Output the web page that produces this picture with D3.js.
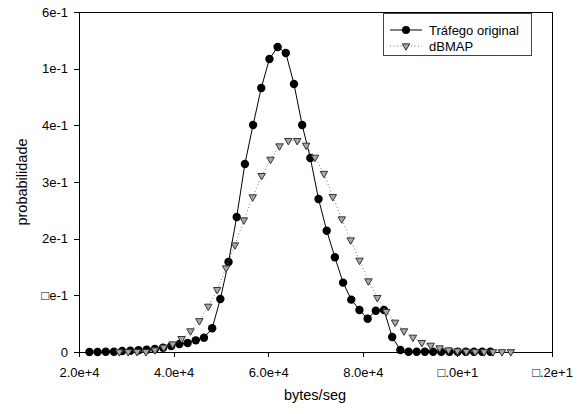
<!DOCTYPE html>
<html>
<head>
<meta charset="utf-8">
<script src="https://cdn.jsdelivr.net/npm/d3@7"></script>
<style>
	body { margin: 0; background: #fff; }
	svg { display: block; font-family: "Liberation Sans", Arial, sans-serif; }
</style>
</head>
<body>
<svg id="chart" width="579" height="414"></svg>
<script>

// Tráfego original (bytes/seg, probabilidade)
var origX = [22200, 23930, 25660, 27390, 29120, 30850, 32580, 34310, 36040, 37770,
	39500, 41230, 42960, 44690, 46420, 48150, 49880, 51610, 53340, 55070,
	56800, 58530, 60260, 61990, 63720, 65450, 67180, 68910, 70640, 72370,
	74100, 75830, 77560, 79290, 81020, 82750, 84480, 86210, 87940, 89670,
	91400, 93130, 94860, 96590, 98320, 100050, 101780, 103510, 105240, 106970];
var origY = [0.0, 0.0, 0.0005, 0.0005, 0.0018, 0.0023, 0.003, 0.004, 0.0053, 0.0076,
	0.0106, 0.0141, 0.0159, 0.0206, 0.0253, 0.0418, 0.0935, 0.1588, 0.2382, 0.3318,
	0.4006, 0.4659, 0.5171, 0.5383, 0.5277, 0.4729, 0.4006, 0.3424, 0.27, 0.2141,
	0.1671, 0.1224, 0.0924, 0.0741, 0.0588, 0.0729, 0.0741, 0.0265, 0.0035, 0.0005,
	0.0005, 0.0005, 0.0005, 0.0005, 0.0005, 0.0005, 0.0005, 0.0005, 0.0005, 0.0005];

// dBMAP
var dbmapX = [28520, 30400, 32280, 34160, 36040, 37920, 39800, 41690, 43570, 45450,
	47330, 49210, 51090, 52970, 54850, 56730, 58620, 60500, 62380, 64260,
	66140, 68020, 69900, 71780, 73660, 75550, 77430, 79310, 81190, 83070,
	84950, 86830, 88710, 90600, 92480, 94360, 96240, 98120, 100000, 101880,
	103760, 105640, 107530, 109410, 111290];
var dbmapY = [0.0002, 0.0003, 0.0005, 0.0005, 0.0035, 0.0083, 0.0141, 0.0235, 0.0371, 0.0551,
	0.0806, 0.11, 0.1482, 0.1888, 0.2329, 0.2735, 0.3112, 0.34, 0.3635, 0.3729,
	0.3729, 0.3647, 0.3435, 0.315, 0.2741, 0.2347, 0.1976, 0.1618, 0.1253, 0.0959,
	0.0712, 0.0524, 0.0371, 0.0259, 0.0165, 0.0118, 0.0071, 0.0035, 0.0018, 0.001,
	0.0005, 0.0003, 0.0003, 0.0003, 0.0003];

var xTicks = [20000, 40000, 60000, 80000, 100000, 120000];
var xTickLabels = ["2.0e+4", "4.0e+4", "6.0e+4", "8.0e+4", "\u25A1.0e+1", "\u25A1.2e+1"];
var yTicks = [0, 0.1, 0.2, 0.3, 0.4, 0.5, 0.6];
var yTickLabels = ["0", "\u25A1e-1", "2e-1", "3e-1", "4e-1", "1e-1", "6e-1"];

var seriesNames = ["Tráfego original", "dBMAP"];

var svg = d3.select("#chart");

var plotLeft = 79, plotRight = 552, plotTop = 12, plotBottom = 352;

var x = d3.scaleLinear().domain([20000, 120000]).range([plotLeft, plotRight]);
var y = d3.scaleLinear().domain([0, 0.6]).range([plotBottom, plotTop]);

// frame (top and right)
svg.append("path")
	.attr("d", "M" + plotLeft + "," + (plotTop + 0.5) + "H" + (plotRight + 0.5) + "V" + plotBottom)
	.attr("fill", "none")
	.attr("stroke", "#000")
	.attr("stroke-width", 1)
	.attr("shape-rendering", "crispEdges");

// axes
var xAxis = d3.axisBottom(x)
	.tickValues(xTicks)
	.tickFormat((d, i) => xTickLabels[i])
	.tickSize(5)
	.tickSizeOuter(0);

var yAxis = d3.axisLeft(y)
	.tickValues(yTicks)
	.tickFormat((d, i) => yTickLabels[i])
	.tickSize(5)
	.tickSizeOuter(0);

var gx = svg.append("g")
	.attr("transform", "translate(0," + plotBottom + ")")
	.call(xAxis);

var gy = svg.append("g")
	.attr("transform", "translate(" + plotLeft + ",0)")
	.call(yAxis);

[gx, gy].forEach(g => {
	g.selectAll("path, line")
		.attr("stroke", "#000")
		.attr("shape-rendering", "crispEdges");
	g.selectAll("text")
		.attr("fill", "#000")
		.attr("font-size", "13px")
		.attr("font-family", "Liberation Sans, Arial, sans-serif");
});
gx.selectAll("text").attr("dy", "1.3em");
gy.selectAll("text").attr("x", -11);

// axis titles
svg.append("text")
	.attr("x", 315)
	.attr("y", 400)
	.attr("text-anchor", "middle")
	.attr("font-size", "14.5px")
	.text("bytes/seg");

svg.append("text")
	.attr("transform", "translate(27," + (plotTop + plotBottom) / 2 + ") rotate(-90)")
	.attr("text-anchor", "middle")
	.attr("font-size", "14.5px")
	.text("probabilidade");

// data
var orig = origX.map((v, i) => [v, origY[i]]);
var dbmap = dbmapX.map((v, i) => [v, dbmapY[i]]);

var line = d3.line()
	.x(d => x(d[0]))
	.y(d => y(d[1]));

var tri = d3.symbol().type(d3.symbolTriangle).size(24);

function drawTriangle(g, px, py) {
	g.append("path")
		.attr("d", tri())
		.attr("transform", "translate(" + px + "," + py + ") rotate(180)")
		.attr("fill", "#a8a8a8")
		.attr("stroke", "#333")
		.attr("stroke-width", 1);
}

svg.append("path")
	.datum(orig)
	.attr("d", line)
	.attr("fill", "none")
	.attr("stroke", "#000")
	.attr("stroke-width", 1);

svg.append("g")
	.selectAll("circle")
	.data(orig)
	.enter()
	.append("circle")
	.attr("cx", d => x(d[0]))
	.attr("cy", d => y(d[1]))
	.attr("r", 4.2)
	.attr("fill", "#000");

svg.append("path")
	.datum(dbmap)
	.attr("d", line)
	.attr("fill", "none")
	.attr("stroke", "#777")
	.attr("stroke-width", 1)
	.attr("stroke-dasharray", "1,2.5");

var gTri = svg.append("g");
dbmap.forEach(d => drawTriangle(gTri, x(d[0]), y(d[1])));

// legend
var legend = svg.append("g");

legend.append("rect")
	.attr("x", 383.5)
	.attr("y", 13.5)
	.attr("width", 148)
	.attr("height", 42)
	.attr("fill", "#fff")
	.attr("stroke", "#444")
	.attr("stroke-width", 1);

var rowY = [30, 46];

legend.append("line")
	.attr("x1", 390).attr("x2", 422)
	.attr("y1", rowY[0]).attr("y2", rowY[0])
	.attr("stroke", "#000");
legend.append("circle")
	.attr("cx", 406).attr("cy", rowY[0])
	.attr("r", 4)
	.attr("fill", "#000");

legend.append("line")
	.attr("x1", 390).attr("x2", 422)
	.attr("y1", rowY[1]).attr("y2", rowY[1])
	.attr("stroke", "#777")
	.attr("stroke-dasharray", "1,2.5");
drawTriangle(legend, 406, rowY[1]);

legend.selectAll("text.lbl")
	.data(seriesNames)
	.enter()
	.append("text")
	.attr("class", "lbl")
	.attr("x", 429)
	.attr("y", (d, i) => rowY[i])
	.attr("dy", "0.35em")
	.attr("font-size", "13px")
	.text(d => d);

</script>
</body>
</html>
